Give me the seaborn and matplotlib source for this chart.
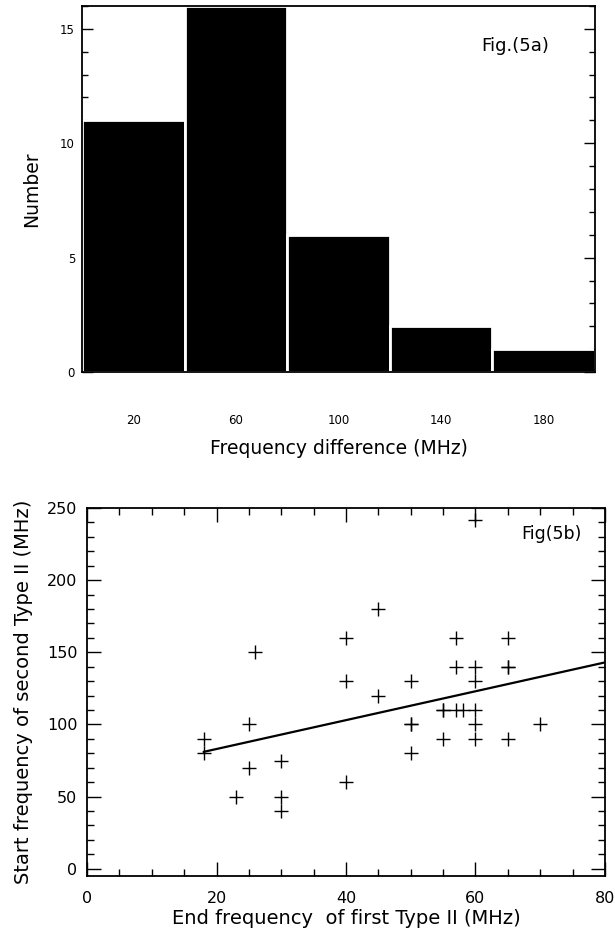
import matplotlib
import matplotlib.pyplot as plt
import numpy as np
import pandas as pd
import seaborn as sns
from matplotlib.ticker import MultipleLocator

matplotlib.use("Agg")

# Fig. 5a - histogram of frequency difference
BIN_EDGES = [0, 40, 80, 120, 160, 200]
BIN_CENTERS = [20, 60, 100, 140, 180]
BIN_COUNTS = [11, 16, 6, 2, 1]

# Fig. 5b - end freq of first Type II vs start freq of second Type II
END_FREQ = [18, 18, 23, 25, 25, 26, 30, 30, 30, 40, 40, 40, 45, 45, 50, 50, 50, 50,
            55, 55, 55, 57, 57, 57, 58, 60, 60, 60, 60, 60, 60, 65, 65, 65, 65, 70]
START_FREQ = [90, 80, 50, 100, 70, 150, 75, 50, 40, 160, 130, 60, 180, 120, 130, 100, 100, 80,
              110, 110, 90, 160, 140, 110, 110, 242, 140, 130, 110, 100, 90, 160, 140, 140, 90, 100]

# linear fit as drawn in the original figure
FIT_SLOPE = 1.0
FIT_INTERCEPT = 63.0
FIT_X_MAX = 80


def style_axes(ax, tick_size):
    for spine in ax.spines.values():
        spine.set_visible(True)
        spine.set_linewidth(1.3)
        spine.set_color("black")
    ax.tick_params(which="both", direction="in", colors="black", labelsize=tick_size, width=1.0)
    ax.tick_params(which="major", length=8)
    ax.tick_params(which="minor", length=4)


def draw_histogram(ax):
    sns.histplot(
        x=BIN_CENTERS,
        weights=BIN_COUNTS,
        bins=BIN_EDGES,
        color="black",
        edgecolor="white",
        linewidth=2,
        alpha=1,
        ax=ax,
    )
    style_axes(ax, 8.5)
    ax.set_xlim(0, 200)
    ax.set_ylim(0, 16)
    ax.set_xticks(BIN_CENTERS)
    ax.set_xticklabels([str(c) for c in BIN_CENTERS], fontsize=8.5)
    ax.tick_params(axis="x", which="both", length=0, pad=30)
    ax.yaxis.set_major_locator(MultipleLocator(5))
    ax.yaxis.set_minor_locator(MultipleLocator(1))
    ax.tick_params(axis="y", which="both", left=True, right=True, pad=5)
    ax.set_xlabel("Frequency difference (MHz)", fontsize=13.5, labelpad=9)
    ax.set_ylabel("Number", fontsize=13.5, labelpad=14)
    ax.text(0.91, 0.89, "Fig.(5a)", transform=ax.transAxes, ha="right", va="center", fontsize=13)


def draw_scatter(ax):
    df = pd.DataFrame({"end": END_FREQ, "start": START_FREQ})
    sns.scatterplot(data=df, x="end", y="start", marker="+", s=100, color="black",
                    linewidth=1.0, ax=ax)

    fit_x = np.array([df["end"].min(), FIT_X_MAX])
    sns.lineplot(x=fit_x, y=FIT_SLOPE * fit_x + FIT_INTERCEPT, color="black", linewidth=1.6, ax=ax)

    style_axes(ax, 11.5)
    ax.set_xlim(0, 80)
    ax.set_ylim(-5, 250)
    ax.xaxis.set_major_locator(MultipleLocator(20))
    ax.xaxis.set_minor_locator(MultipleLocator(5))
    ax.yaxis.set_major_locator(MultipleLocator(50))
    ax.yaxis.set_minor_locator(MultipleLocator(10))
    ax.tick_params(which="both", top=True, right=True)
    ax.tick_params(axis="x", which="both", pad=11)
    ax.tick_params(axis="y", which="both", pad=7)
    ax.tick_params(which="major", length=10)
    ax.tick_params(which="minor", length=5)
    ax.set_xlabel("End frequency  of first Type II (MHz)", fontsize=14, labelpad=2)
    ax.set_ylabel("Start frequency of second Type II (MHz)", fontsize=14, labelpad=10)
    ax.text(0.955, 0.93, "Fig(5b)", transform=ax.transAxes, ha="right", va="center", fontsize=12.5)


def main():
    sns.set_style("ticks")
    plt.rcParams["font.family"] = ["DejaVu Sans"]
    plt.rcParams["text.color"] = "black"
    plt.rcParams["axes.labelcolor"] = "black"

    fig = plt.figure(figsize=(6.15, 9.35), dpi=100, facecolor="white")
    ax_top = fig.add_axes([0.1333, 0.6021, 0.8342, 0.3915])
    ax_bot = fig.add_axes([0.1415, 0.0631, 0.8422, 0.3936])

    draw_histogram(ax_top)
    draw_scatter(ax_bot)

    fig.savefig("out.png", dpi=100, facecolor="white")
    plt.close(fig)


if __name__ == "__main__":
    main()
